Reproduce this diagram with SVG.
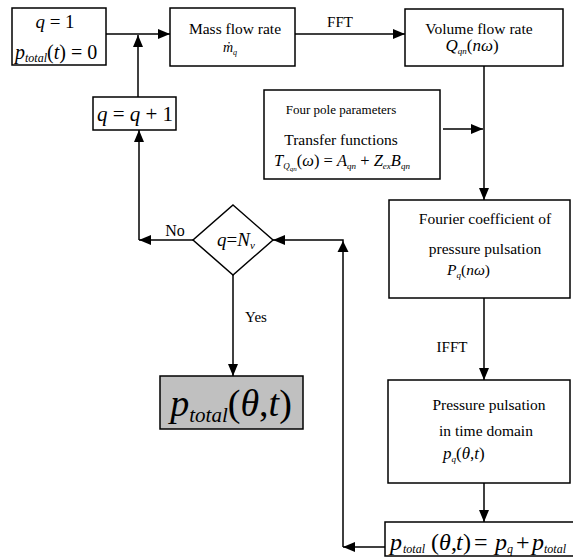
<svg xmlns="http://www.w3.org/2000/svg" width="573" height="560" viewBox="0 0 573 560">
<style>
.box{fill:#fff;stroke:#000;stroke-width:1.5}
.t{font-family:'Liberation Serif','Times New Roman','DejaVu Serif',serif;fill:#000}
.i{font-style:italic}
.ln{fill:none;stroke:#000;stroke-width:1.5}
</style>
<defs>
<marker id="ah" markerWidth="12" markerHeight="10" refX="12" refY="5" orient="auto" markerUnits="userSpaceOnUse">
<path d="M0,0 L12,5 L0,10 Z" fill="#000"/>
</marker>
</defs>
<rect width="573" height="560" fill="#fff"/>
<g id="connectors" font-family="Liberation Serif, serif">
<path class="ln" d="M106,34 H170" marker-end="url(#ah)"/>
<path class="ln" d="M138,97 V35" marker-end="url(#ah)"/>
<path class="ln" d="M295,34 H405" marker-end="url(#ah)"/>
<text class="t" x="340" y="27" font-size="15" text-anchor="middle">FFT</text>
<path class="ln" d="M484,66 V200" marker-end="url(#ah)"/>
<path class="ln" d="M443,129 H483" marker-end="url(#ah)"/>
<path class="ln" d="M484,298 V380" marker-end="url(#ah)"/>
<text class="t" x="452" y="352" font-size="15" text-anchor="middle">IFFT</text>
<path class="ln" d="M484,483 V522" marker-end="url(#ah)"/>
<path class="ln" d="M385,547 H343" marker-end="url(#ah)"/>
<path class="ln" d="M343,547 V240 H273" marker-end="url(#ah)"/>
<path d="M343,241 L337.5,252 L348.5,252 Z" fill="#000"/>
<path class="ln" d="M193,240 H139" marker-end="url(#ah)"/>
<path class="ln" d="M139,240 V130" marker-end="url(#ah)"/>
<text class="t" x="175" y="236" font-size="16" text-anchor="middle">No</text>
<path class="ln" d="M233,275 V376" marker-end="url(#ah)"/>
<text class="t" x="256" y="322" font-size="15" text-anchor="middle">Yes</text>
</g>
<g id="init" font-family="Liberation Serif, serif">
<rect class="box" x="12" y="8" width="94" height="57"/>
<text class="t" x="55" y="28" font-size="19" text-anchor="middle"><tspan class="i">q</tspan> = 1</text>
<text class="t" x="15" y="59" font-size="20"><tspan class="i">p</tspan><tspan class="i" font-size="12" dy="3">total</tspan><tspan dy="-3">(</tspan><tspan class="i">t</tspan>) = 0</text>
</g>
<g id="massflow" font-family="Liberation Serif, serif">
<rect class="box" x="170" y="8" width="125" height="58"/>
<text class="t" x="235" y="34" font-size="15.5" text-anchor="middle">Mass flow rate</text>
<text class="t i" x="230" y="52" font-size="14" text-anchor="middle">ṁ<tspan font-size="8" dy="3">q</tspan></text>
</g>
<g id="volumeflow" font-family="Liberation Serif, serif">
<rect class="box" x="405" y="9" width="158" height="57"/>
<text class="t" x="479" y="34" font-size="15.5" text-anchor="middle">Volume flow rate</text>
<text class="t" x="472" y="51" font-size="17" text-anchor="middle"><tspan class="i">Q</tspan><tspan class="i" font-size="9" dy="3">qn</tspan><tspan dy="-3">(</tspan><tspan class="i">nω</tspan>)</text>
</g>
<g id="fourpole" font-family="Liberation Serif, serif">
<rect class="box" x="264" y="90" width="176" height="89"/>
<text class="t" x="341" y="114" font-size="13" text-anchor="middle">Four pole parameters</text>
<text class="t" x="341" y="145" font-size="15.5" text-anchor="middle">Transfer functions</text>
<text class="t" x="342" y="166" font-size="16.5" text-anchor="middle"><tspan class="i">T</tspan><tspan class="i" font-size="9" dy="3">Q</tspan><tspan class="i" font-size="7" dy="2">qn</tspan><tspan dy="-5">(</tspan><tspan class="i">ω</tspan>) = <tspan class="i">A</tspan><tspan class="i" font-size="9" dy="3">qn</tspan><tspan dy="-3"> + </tspan><tspan class="i">Z</tspan><tspan class="i" font-size="9" dy="3">ex</tspan><tspan class="i" dy="-3">B</tspan><tspan class="i" font-size="9" dy="3">qn</tspan></text>
</g>
<g id="fourier" font-family="Liberation Serif, serif">
<rect class="box" x="389" y="200" width="181" height="98"/>
<text class="t" x="485" y="224" font-size="15.5" text-anchor="middle">Fourier coefficient of</text>
<text class="t" x="485" y="254" font-size="15.5" text-anchor="middle">pressure pulsation</text>
<text class="t" x="447" y="275" font-size="15.5"><tspan class="i">P</tspan><tspan class="i" font-size="9" dy="3">q</tspan><tspan dy="-3">(</tspan><tspan class="i">nω</tspan>)</text>
</g>
<g id="pressure" font-family="Liberation Serif, serif">
<rect class="box" x="388" y="380" width="182" height="103"/>
<text class="t" x="489" y="410" font-size="15.5" text-anchor="middle">Pressure pulsation</text>
<text class="t" x="486" y="436" font-size="15.5" text-anchor="middle">in time domain</text>
<text class="t" x="443" y="459" font-size="17"><tspan class="i">p</tspan><tspan class="i" font-size="9" dy="3">q</tspan><tspan dy="-3">(</tspan><tspan class="i">θ</tspan>,<tspan class="i">t</tspan>)</text>
</g>
<g id="sum" font-family="Liberation Serif, serif">
<rect class="box" x="385" y="522" width="200" height="34"/>
<text class="t" y="550" font-size="24"><tspan class="i" x="390">p</tspan><tspan class="i" font-size="12" dy="3" x="403">total</tspan><tspan dy="-3" x="431">(</tspan><tspan class="i" x="439">θ</tspan><tspan x="451">,</tspan><tspan class="i" x="456">t</tspan><tspan x="463">)</tspan><tspan x="474">=</tspan><tspan class="i" x="495">p</tspan><tspan class="i" font-size="12" dy="3" x="507">q</tspan><tspan dy="-3" x="516">+</tspan><tspan class="i" x="532">p</tspan><tspan class="i" font-size="12" dy="3" x="544">total</tspan></text>
</g>
<g id="increment" font-family="Liberation Serif, serif">
<rect class="box" x="93" y="97" width="83" height="33"/>
<text class="t" x="135" y="121" font-size="21" text-anchor="middle"><tspan class="i">q</tspan> = <tspan class="i">q</tspan> + 1</text>
</g>
<g id="decision" font-family="Liberation Serif, serif">
<path class="box" d="M233,205 L273,240 L233,275 L193,240 Z"/>
<text class="t" x="236" y="246" font-size="19" text-anchor="middle"><tspan class="i">q</tspan>=<tspan class="i">N</tspan><tspan class="i" font-size="11" dy="3">v</tspan></text>
</g>
<g id="result" font-family="Liberation Serif, serif">
<rect x="160" y="376" width="143" height="53" fill="#c0c0c0" stroke="#000" stroke-width="1.5"/>
<text class="t" x="231" y="416" font-size="38" text-anchor="middle"><tspan class="i">p</tspan><tspan class="i" font-size="21" dy="6">total</tspan><tspan dy="-6">(</tspan><tspan class="i">θ</tspan>,<tspan class="i">t</tspan>)</text>
</g>
</svg>
